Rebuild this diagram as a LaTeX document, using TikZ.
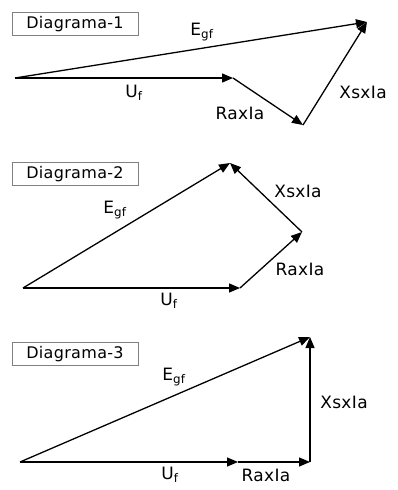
\documentclass[tikz,border=0pt]{standalone}
\usepackage{fontspec}
\setmainfont{DejaVu Sans}[LetterSpace=2]
\usetikzlibrary{arrows.meta}

\tikzset{
  phasor/.style={-{Triangle[length=11pt,width=9pt]},line width=1.3pt},
  lbl/.style={font=\fontsize{17}{20}\selectfont},
  title/.style={draw=gray,line width=0.8pt,minimum width=126pt,minimum height=23pt,
    inner sep=0pt,font=\fontsize{16}{18}\selectfont}
}

\begin{document}
\begin{tikzpicture}[x=1pt,y=-1pt]
    \useasboundingbox (0,0) rectangle (397,490);
    % diagrama 1
    \node[title] (t1) at (75,24) {Diagrama-1};
    \coordinate (o1) at (15,78);
    \coordinate (u1) at (233,78);
    \coordinate (r1) at (303,125);
    \coordinate (e1) at (367,22);
    \draw[phasor] (o1) -- (u1);
    \draw[phasor] (u1) -- (r1);
    \draw[phasor] (r1) -- (e1);
    \draw[phasor] (o1) -- (e1);
    \node[lbl] (le1) at (202,32) {E\textsubscript{gf}};
    \node[lbl] (lu1) at (134,93) {U\textsubscript{f}};
    \node[lbl] (lr1) at (240,113) {RaxIa};
    \node[lbl] (lx1) at (363,92) {XsxIa};
    % diagrama 2
    \node[title] (t2) at (75,174) {Diagrama-2};
    \coordinate (o2) at (23,288);
    \coordinate (u2) at (240,288);
    \coordinate (r2) at (302,232);
    \coordinate (e2) at (230,163);
    \draw[phasor] (o2) -- (u2);
    \draw[phasor] (u2) -- (r2);
    \draw[phasor] (r2) -- (e2);
    \draw[phasor] (o2) -- (e2);
    \node[lbl] (le2) at (115,210) {E\textsubscript{gf}};
    \node[lbl] (lu2) at (169,301) {U\textsubscript{f}};
    \node[lbl] (lr2) at (300,269) {RaxIa};
    \node[lbl] (lx2) at (298,191) {XsxIa};
    % diagrama 3
    \node[title] (t3) at (75,354) {Diagrama-3};
    \coordinate (o3) at (20,462);
    \coordinate (u3) at (238,462);
    \coordinate (r3) at (310,462);
    \coordinate (e3) at (310,337);
    \draw[phasor] (o3) -- (u3);
    \draw[phasor] (u3) -- (r3);
    \draw[phasor] (r3) -- (e3);
    \draw[phasor] (o3) -- (e3);
    \node[lbl] (le3) at (174,377) {E\textsubscript{gf}};
    \node[lbl] (lu3) at (170,475) {U\textsubscript{f}};
    \node[lbl] (lr3) at (266,475) {RaxIa};
    \node[lbl] (lx3) at (344,402) {XsxIa};
\end{tikzpicture}
\end{document}
